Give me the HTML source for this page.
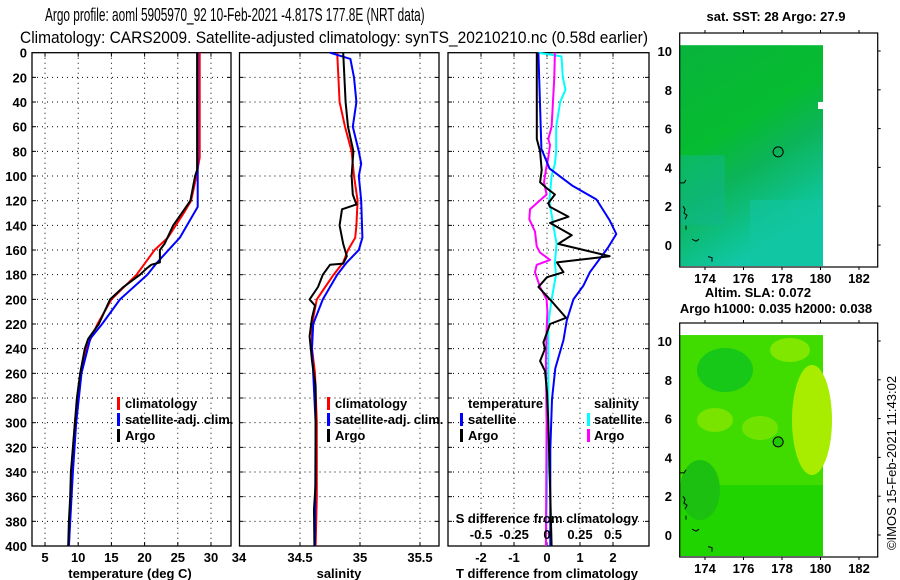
<!DOCTYPE html>
<html><head><meta charset="utf-8"><style>
html,body{margin:0;padding:0;background:#fff;}
svg{display:block;font-family:"Liberation Sans",sans-serif;}
.t{font-size:13px;font-weight:bold;fill:#000;}
</style></head><body>
<svg id="c" width="900" height="580" viewBox="0 0 900 580">
<text transform="translate(45,21) scale(0.64,1)" x="0" y="0" style="font-size:18.5px;fill:#000">Argo profile: aoml 5905970_92 10-Feb-2021 -4.817S 177.8E (NRT data)</text>
<text x="20" y="43" style="font-size:17px;fill:#000" textLength="628" lengthAdjust="spacingAndGlyphs">Climatology: CARS2009. Satellite-adjusted climatology: synTS_20210210.nc (0.58d earlier)</text>
<g id="g"></g>
</svg>
<script>
// ---- data ----
const depthTicks=[0,20,40,60,80,100,120,140,160,180,200,220,240,260,280,300,320,340,360,380,400];
const tempTicks=[5,10,15,20,25,30];
const salTicks=[34,34.5,35,35.5];
const tdiffTicks=[-2,-1,0,1,2];
const sdiffTicks=[-0.5,-0.25,0,0.25,0.5];
const lonTicks=[174,176,178,180,182];
const latTicks=[0,2,4,6,8,10];

const tClimZ=[0,85,100,120,130,150,160,180,200,220,240,260,300,340,400];
const tClim=[28.3,28.3,27.8,27.0,25.9,23.5,21.5,18.8,15.0,12.9,11.2,10.3,9.5,9.0,8.6];
const tSatZ=[0,125,150,170,180,200,220,232,260,300,340,400];
const tSat=[28.0,28.0,25.3,21.9,20.4,16.3,13.6,11.8,10.5,9.7,9.2,8.6];
const tArgoZ=[0,95,100,120,140,155,160,170,172,175,180,190,200,220,232,240,260,280,300,320,340,360,380,400];
const tArgo=[27.9,27.9,27.6,26.9,24.3,23.0,22.3,22.3,21.0,20.3,19.3,16.8,14.8,13.1,11.5,11.0,10.3,9.8,9.5,9.2,8.9,8.8,8.6,8.5];

const sClimZ=[0,20,40,60,80,100,120,140,150,160,170,180,190,200,220,240,260,300,360,400];
const sClim=[34.81,34.82,34.83,34.875,34.93,34.95,34.98,34.97,34.96,34.90,34.86,34.78,34.71,34.64,34.60,34.60,34.625,34.64,34.64,34.63];
const sSatZ=[0,5,20,40,60,80,90,100,120,150,160,170,180,200,220,240,300,400];
const sSat=[34.75,34.92,34.95,34.97,34.94,34.99,35.01,34.99,35.01,35.02,34.99,34.89,34.81,34.69,34.61,34.60,34.63,34.625];
const sArgoZ=[0,40,60,80,100,115,123,127,140,155,165,171,172,180,190,200,205,215,230,250,270,300,350,370,400];
const sArgo=[34.86,34.88,34.90,34.945,34.93,34.94,34.97,34.85,34.83,34.86,34.89,34.86,34.75,34.69,34.65,34.58,34.625,34.60,34.58,34.60,34.63,34.63,34.63,34.617,34.62];

const dTSatZ=[0,78,94,108,119,136,147,158,178,189,200,217,233,256,281,322,400];
const dTSat=[-0.26,-0.17,0.08,0.78,1.5,1.9,2.1,1.85,1.3,1.1,0.8,0.6,0.5,0.25,0.15,0.1,0.1];
const dTArgoZ=[0,70,80,95,105,110,115,122,125,133,138,148,155,165,170,178,182,190,200,215,220,235,240,250,258,275,300,350,400];
const dTArgo=[-0.31,-0.31,-0.21,-0.16,-0.21,0,0.24,0.04,0.09,0.65,0.09,0.75,0.34,1.9,0.3,0.5,0,-0.26,0.09,0.58,0.09,-0.11,-0.06,-0.21,-0.06,0,0.04,0.09,0.14];
const dSSatZ=[0,3,20,30,40,60,80,90,100,120,140,155,170,180,200,220,250,300,340,400];
const dSSat=[-0.066,0.11,0.12,0.14,0.1,0.07,0.07,0.06,0.035,0.018,0.048,0.073,0.06,0.068,0.035,0.01,0.01,0.01,0.003,-0.008];
const dSArgoZ=[0,20,60,70,75,85,95,105,115,122,127,135,145,157,162,168,172,178,190,200,210,225,250,300,400];
const dSArgo=[0.06,0.055,0.035,0.01,0.023,0.01,-0.008,-0.023,-0.003,-0.078,-0.129,-0.134,-0.091,-0.078,-0.053,0.023,-0.078,-0.091,-0.053,-0.003,0.003,-0.003,-0.008,-0.003,-0.008];

// ---- helpers ----
const NS="http://www.w3.org/2000/svg";
const G=document.getElementById('g');
function mk(tag,attrs,parent){const e=document.createElementNS(NS,tag);for(const k in attrs)e.setAttribute(k,attrs[k]);(parent||G).appendChild(e);return e;}
const TOP=52.7,BOT=546;
const yD=d=>TOP+(BOT-TOP)*d/400;
const xT=t=>45+(t-5)*6.64;
const xS=s=>240+(s-34)*120;
const xDT=d=>547+d*33;
const xDS=d=>547+d*132;

function panel(name,x0,x1,vx,xfn,labels){
  const grid=mk('g',{});
  
  
  depthTicks.forEach(d=>{if(d>0&&d<400){mk('line',{x1:x0,x2:x1,y1:yD(d),y2:yD(d),stroke:'#000','stroke-dasharray':'1,4','stroke-width':1},grid);
    mk('line',{x1:x0,x2:x0+4,y1:yD(d),y2:yD(d),stroke:'#000'},grid);mk('line',{x1:x1-4,x2:x1,y1:yD(d),y2:yD(d),stroke:'#000'},grid);}});
  vx.forEach(v=>{const x=xfn(v);if(x>x0+1&&x<x1-1){mk('line',{x1:x,x2:x,y1:TOP,y2:BOT,stroke:'#000','stroke-dasharray':'1,4'},grid);
    mk('line',{x1:x,x2:x,y1:TOP,y2:TOP+4,stroke:'#000'},grid);mk('line',{x1:x,x2:x,y1:BOT-4,y2:BOT,stroke:'#000'},grid);}});
  const r=mk('rect',{x:x0,y:TOP,width:x1-x0,height:BOT-TOP,fill:'none',stroke:'#000','stroke-width':1.3});
  
  
  if(labels){labels.forEach(v=>{const t=mk('text',{x:xfn(v),y:562,'text-anchor':'middle',class:'t'});t.textContent=String(v);
    
    });}
}
function line(name,zs,vs,xfn,color,w){
  const pts=zs.map((z,i)=>xfn(vs[i]).toFixed(1)+','+yD(z).toFixed(1)).join(' ');
  const p=mk('polyline',{points:pts,fill:'none',stroke:color,'stroke-width':w||2,'stroke-linejoin':'round'});
  
  
}
function txt(s,x,y,name,anchor){const t=mk('text',{x:x,y:y,class:'t','text-anchor':anchor||'start'});t.textContent=s;
  
  return t;}
function legBar(x,y,color){const b=mk('rect',{x:x,y:y-11,width:3,height:13,fill:color});
  
  }

depthTicks.forEach(d=>{txt(String(d),27,yD(d)+5,'y-tick-label','end');});

panel('temperature-panel',32,231,tempTicks,xT,tempTicks);
line('temperature-climatology',tClimZ,tClim,xT,'#f00',2);
line('temperature-satellite',tSatZ,tSat,xT,'#00f',2);
line('temperature-argo',tArgoZ,tArgo,xT,'#000',2);
txt('temperature (deg C)',130,578,'x-axis-title-temperature','middle');
legBar(117,408,'#f00');txt('climatology',125,408,'legend-entry-climatology');
legBar(117,424,'#00f');txt('satellite-adj. clim.',125,424,'legend-entry-satellite');
legBar(117,440,'#000');txt('Argo',125,440,'legend-entry-argo');

panel('salinity-panel',239.5,439,salTicks,xS,null);
[[34,'34'],[34.5,'34.5'],[35,'35'],[35.5,'35.5']].forEach(a=>{txt(a[1],xS(a[0])-(a[0]==34?1:0),562,'x-tick-label','middle');});
line('salinity-climatology',sClimZ,sClim,xS,'#f00',2);
line('salinity-satellite',sSatZ,sSat,xS,'#00f',2);
line('salinity-argo',sArgoZ,sArgo,xS,'#000',2);
txt('salinity',339,578,'x-axis-title-salinity','middle');
legBar(327,408,'#f00');txt('climatology',335,408,'legend-entry-climatology');
legBar(327,424,'#00f');txt('satellite-adj. clim.',335,424,'legend-entry-satellite');
legBar(327,440,'#000');txt('Argo',335,440,'legend-entry-argo');

panel('difference-panel',448,649,tdiffTicks,xDT,tdiffTicks);
line('salinity-diff-satellite',dSSatZ,dSSat,xDS,'#0ff',2);
line('salinity-diff-argo',dSArgoZ,dSArgo,xDS,'#f0f',2);
line('temperature-diff-satellite',dTSatZ,dTSat,xDT,'#00f',2);
line('temperature-diff-argo',dTArgoZ,dTArgo,xDT,'#000',2);
txt('T difference from climatology',547,578,'x-axis-title-tdiff','middle');
txt('S difference from climatology',547,523,'s-axis-title','middle');
[[-0.5,'-0.5'],[-0.25,'-0.25'],[0,'0'],[0.25,'0.25'],[0.5,'0.5']].forEach(a=>txt(a[1],xDS(a[0]),539,'s-tick-label','middle'));
txt('temperature',468,408,'legend-title-temperature');
legBar(460,424,'#00f');txt('satellite',468,424,'legend-entry-t-satellite');
legBar(460,440,'#000');txt('Argo',468,440,'legend-entry-t-argo');
txt('salinity',594,408,'legend-title-salinity');
legBar(587,424,'#0ff');txt('satellite',594,424,'legend-entry-s-satellite');
legBar(587,440,'#f0f');txt('Argo',594,440,'legend-entry-s-argo');

function map(name,y0,latRef,colorsFn){
  const bx0=679.7,bx1=877.7,by0=y0,by1=y0+234;
  const lon=v=>705+(v-174)*19.25;
  const lat=v=>latRef+(0-v)*19.4;
  const g=mk('g',{});
  
  
  colorsFn(g,bx0,lat(10.3),823,by1-1);
  mk('rect',{x:bx0,y:by0,width:bx1-bx0,height:by1-by0,fill:'none',stroke:'#000','stroke-width':1.2},g);
  lonTicks.forEach(v=>{mk('line',{x1:lon(v),x2:lon(v),y1:by0-3,y2:by0,stroke:'#000'},g);mk('line',{x1:lon(v),x2:lon(v),y1:by1,y2:by1+3,stroke:'#000'},g);
    txt(String(v),lon(v),by1+16,'lon-tick-label','middle');});
  latTicks.forEach(v=>{mk('line',{x1:bx1,x2:bx1+3,y1:lat(v),y2:lat(v),stroke:'#000'},g);txt(String(v),672,lat(v)+5,'lat-tick-label','end');});
  mk('path',{d:`M680 ${lat(3.2)} l4 0 l2 -3 M683 ${lat(2)} l2 3 l-1 4 l3 2 l-2 4 M686 ${lat(1)} l0 4 M692 ${lat(0.3)} l4 2 l3 -2 M708 ${lat(-0.6)} l4 1 l0 4`,fill:'none',stroke:'#000','stroke-width':1},g);
  const c=mk('circle',{cx:lon(177.8),cy:lat(4.8),r:5,fill:'none',stroke:'#000','stroke-width':1});
  
  
}
map('sst-map',33,245,(g,x0,y0,x1,y1)=>{
  const d=mk('defs',{},g);
  const lg=mk('linearGradient',{id:'sstg',x1:0,y1:0,x2:0.4,y2:1},d);
  mk('stop',{offset:'0','stop-color':'#08b43c'},lg);mk('stop',{offset:'0.45','stop-color':'#06bc30'},lg);
  mk('stop',{offset:'0.65','stop-color':'#0cb458'},lg);mk('stop',{offset:'1','stop-color':'#10c8a8'},lg);
  mk('rect',{x:x0,y:y0,width:x1-x0,height:y1-y0,fill:'url(#sstg)'},g);
  mk('rect',{x:x0,y:y0+110,width:45,height:70,fill:'#10b890',opacity:0.5},g);
  mk('rect',{x:750,y:200,width:73,height:64,fill:'#12c4a0',opacity:0.6},g);
  mk('rect',{x:818,y:102,width:6,height:7,fill:'#fff'},g);
});
txt('sat. SST: 28 Argo: 27.9',776,21,'sst-map-title','middle');
txt('Altim. SLA: 0.072',758,297,'sla-map-title','middle');
txt('Argo h1000: 0.035 h2000: 0.038',776,313,'sla-map-subtitle','middle');
map('sla-map',323,535,(g,x0,y0,x1,y1)=>{
  mk('rect',{x:x0,y:y0,width:x1-x0,height:y1-y0,fill:'#20d400'},g);
  mk('rect',{x:x0,y:y0,width:x1-x0,height:150,fill:'#40dc00'},g);
  mk('ellipse',{cx:725,cy:370,rx:28,ry:22,fill:'#18c818'},g);
  mk('ellipse',{cx:812,cy:420,rx:20,ry:55,fill:'#a8ec00'},g);
  mk('ellipse',{cx:715,cy:420,rx:18,ry:12,fill:'#78e400'},g);
  mk('ellipse',{cx:760,cy:428,rx:18,ry:12,fill:'#70e400'},g);
  mk('ellipse',{cx:790,cy:350,rx:20,ry:12,fill:'#80e800'},g);
  mk('ellipse',{cx:700,cy:490,rx:20,ry:30,fill:'#1cc010'},g);
  mk('circle',{cx:777.5,cy:442,r:5,fill:'#20c800'},g);
});
const cp=txt('©IMOS 15-Feb-2021 11:43:02',0,0,'copyright-text','middle');
cp.setAttribute('transform','translate(896,463) rotate(-90)');
cp.setAttribute('style','font-weight:normal;font-size:13px');
</script>
</body></html>
